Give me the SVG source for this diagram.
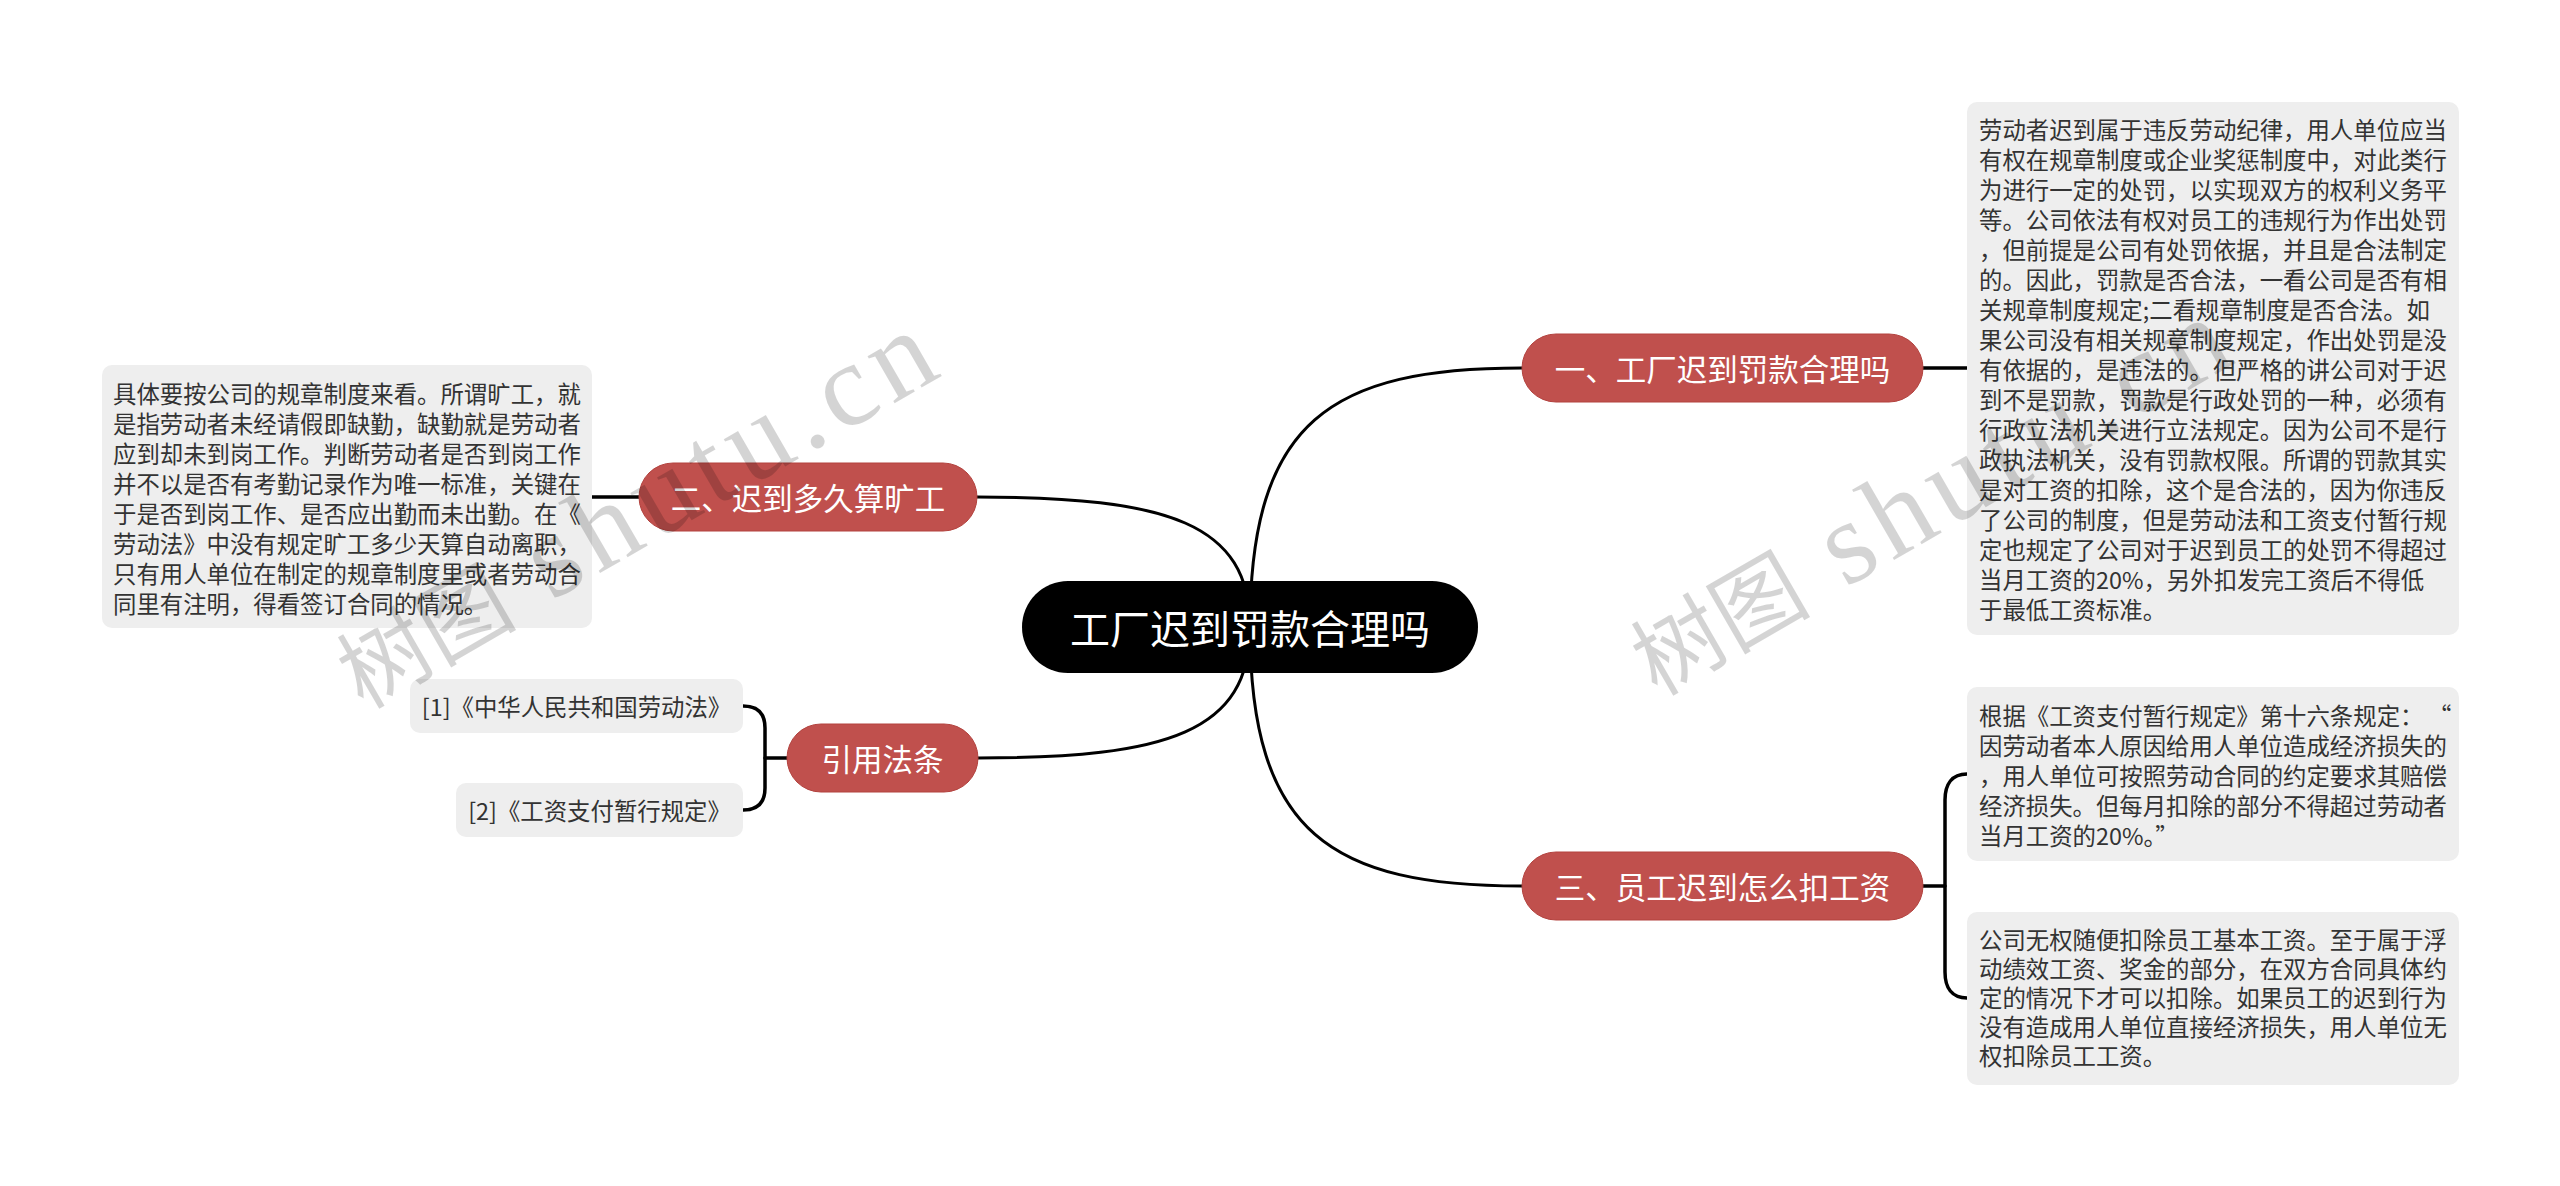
<svg xmlns="http://www.w3.org/2000/svg" width="2560" height="1186" viewBox="0 0 2560 1186">
<style>
.cn{font-family:"Noto Sans CJK SC","Noto Sans CJK TC",sans-serif}
.root rect{fill:#000}
.root text{fill:#fff;font-size:40px;text-anchor:middle;dominant-baseline:central}
.br rect{fill:#C0504D;stroke:#b3433f;stroke-width:1}
.br text{fill:#fff;font-size:30.5px;text-anchor:middle;dominant-baseline:central}
.box rect{fill:#EEEEEE}
.box text{fill:#333;font-size:23.4px;dominant-baseline:central}
.ref text{text-anchor:middle}
.edge{fill:none;stroke:#000;stroke-width:3;stroke-linecap:round}
.stub{fill:none;stroke:#000;stroke-width:3.5;stroke-linecap:round}
.wm{font-family:"Liberation Serif","Noto Sans CJK SC",serif;font-size:90px;fill:#000;fill-opacity:0.17}
.wm tspan{font-size:118px;letter-spacing:8px}
</style>
<rect width="2560" height="1186" fill="#fff"/>
<g id="connectors">
<path class="edge" d="M1250 627 C1250 420 1332 368 1522 368"/>
<path class="edge" d="M1250 627 C1250 834 1332 886 1522 886"/>
<path class="edge" d="M1250 627 C1250 523 1168 497 977 497"/>
<path class="edge" d="M1250 627 C1250 732 1168 758 978 758"/>
<path class="stub" d="M1923 368 L1967 368"/>
<path class="stub" d="M639 497 L592 497"/>
<path class="stub" d="M1923 886 L1945 886"/>
<path class="stub" d="M1967 774 C1952 774 1945 784 1945 800 L1945 972 C1945 988 1952 998 1967 998"/>
<path class="stub" d="M787 758 L765 758"/>
<path class="stub" d="M743 706 C758 706 765 714 765 728 L765 788 C765 802 758 810 743 810"/>
</g>
<g id="root" class="root cn">
<rect x="1022" y="581" width="456" height="92" rx="46"/>
<text x="1250" y="627">工厂迟到罚款合理吗</text>
</g>
<g id="b1" class="br cn">
<rect x="1522" y="334" width="401" height="68" rx="34"/>
<text x="1722.5" y="368">一、工厂迟到罚款合理吗</text>
</g>
<g id="b2" class="br cn">
<rect x="639" y="463" width="338" height="68" rx="34"/>
<text x="808" y="497">二、迟到多久算旷工</text>
</g>
<g id="b3" class="br cn">
<rect x="1522" y="852" width="401" height="68" rx="34"/>
<text x="1722.5" y="886">三、员工迟到怎么扣工资</text>
</g>
<g id="b4" class="br cn">
<rect x="787" y="724" width="191" height="68" rx="34"/>
<text x="882.5" y="758">引用法条</text>
</g>
<g id="t1" class="box cn">
<rect x="1967" y="102" width="492" height="533" rx="10"/>
<text x="1979" y="129">劳动者迟到属于违反劳动纪律，用人单位应当</text>
<text x="1979" y="159">有权在规章制度或企业奖惩制度中，对此类行</text>
<text x="1979" y="189">为进行一定的处罚，以实现双方的权利义务平</text>
<text x="1979" y="219">等。公司依法有权对员工的违规行为作出处罚</text>
<text x="1979" y="249">，但前提是公司有处罚依据，并且是合法制定</text>
<text x="1979" y="279">的。因此，罚款是否合法，一看公司是否有相</text>
<text x="1979" y="309">关规章制度规定;二看规章制度是否合法。如</text>
<text x="1979" y="339">果公司没有相关规章制度规定，作出处罚是没</text>
<text x="1979" y="369">有依据的，是违法的。但严格的讲公司对于迟</text>
<text x="1979" y="399">到不是罚款，罚款是行政处罚的一种，必须有</text>
<text x="1979" y="429">行政立法机关进行立法规定。因为公司不是行</text>
<text x="1979" y="459">政执法机关，没有罚款权限。所谓的罚款其实</text>
<text x="1979" y="489">是对工资的扣除，这个是合法的，因为你违反</text>
<text x="1979" y="519">了公司的制度，但是劳动法和工资支付暂行规</text>
<text x="1979" y="549">定也规定了公司对于迟到员工的处罚不得超过</text>
<text x="1979" y="579">当月工资的20%，另外扣发完工资后不得低</text>
<text x="1979" y="609">于最低工资标准。</text>
</g>
<g id="t2" class="box cn">
<rect x="102" y="365" width="490" height="263" rx="10"/>
<text x="113" y="393">具体要按公司的规章制度来看。所谓旷工，就</text>
<text x="113" y="423">是指劳动者未经请假即缺勤，缺勤就是劳动者</text>
<text x="113" y="453">应到却未到岗工作。判断劳动者是否到岗工作</text>
<text x="113" y="483">并不以是否有考勤记录作为唯一标准，关键在</text>
<text x="113" y="513">于是否到岗工作、是否应出勤而未出勤。在《</text>
<text x="113" y="543">劳动法》中没有规定旷工多少天算自动离职，</text>
<text x="113" y="573">只有用人单位在制定的规章制度里或者劳动合</text>
<text x="113" y="603">同里有注明，得看签订合同的情况。</text>
</g>
<g id="t3a" class="box cn">
<rect x="1967" y="687" width="492" height="174" rx="10"/>
<text x="1979" y="715">根据《工资支付暂行规定》第十六条规定：<tspan x="2428">“</tspan></text>
<text x="1979" y="745">因劳动者本人原因给用人单位造成经济损失的</text>
<text x="1979" y="775">，用人单位可按照劳动合同的约定要求其赔偿</text>
<text x="1979" y="805">经济损失。但每月扣除的部分不得超过劳动者</text>
<text x="1979" y="835">当月工资的20%。”</text>
</g>
<g id="t3b" class="box cn">
<rect x="1967" y="912" width="492" height="173" rx="10"/>
<text x="1979" y="939">公司无权随便扣除员工基本工资。至于属于浮</text>
<text x="1979" y="968">动绩效工资、奖金的部分，在双方合同具体约</text>
<text x="1979" y="997">定的情况下才可以扣除。如果员工的迟到行为</text>
<text x="1979" y="1026">没有造成用人单位直接经济损失，用人单位无</text>
<text x="1979" y="1055">权扣除员工工资。</text>
</g>
<g id="r1" class="box ref cn">
<rect x="410" y="679" width="333" height="54" rx="10"/>
<text x="576.5" y="706">[1]《中华人民共和国劳动法》</text>
</g>
<g id="r2" class="box ref cn">
<rect x="456" y="783" width="287" height="54" rx="10"/>
<text x="599.5" y="810">[2]《工资支付暂行规定》</text>
</g>
<g id="watermarks">
<text class="wm" x="363" y="710" transform="rotate(-30 363 710)">树图<tspan> shutu.cn</tspan></text>
<text class="wm" x="1657" y="697" transform="rotate(-30 1657 697)">树图<tspan> shutu.cn</tspan></text>
</g>
</svg>
